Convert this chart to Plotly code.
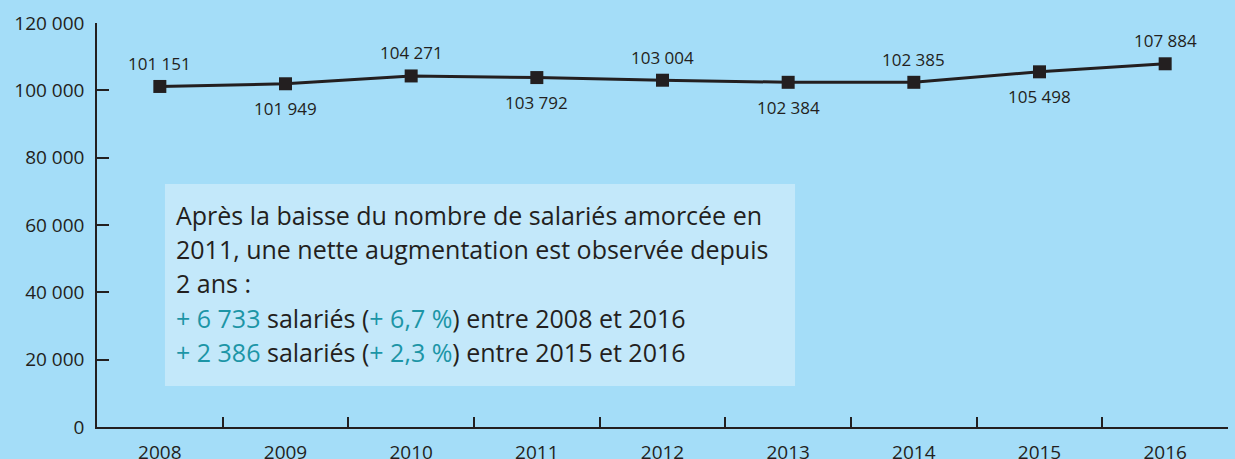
import plotly.graph_objects as go

years = ["2008", "2009", "2010", "2011", "2012", "2013", "2014", "2015", "2016"]
salaries = [101151, 101949, 104271, 103792, 103004, 102384, 102385, 105498, 107884]
label_above = [True, False, True, False, True, False, True, False, True]
y_ticks = [0, 20000, 40000, 60000, 80000, 100000, 120000]
y_ticktext = ["0", "20 000", "40 000", "60 000", "80 000", "100 000", "120 000"]

DARK = "#231f20"
TEAL = "#1c95a6"
BG = "#a4ddf8"
BOX = "#c3e8fa"
FONT = "Open Sans"

labels = [f"{v:,}".replace(",", " ") for v in salaries]

fig = go.Figure()
fig.add_trace(go.Scatter(
    x=years, y=salaries, mode="lines+markers",
    line=dict(color=DARK, width=3),
    marker=dict(symbol="square", size=13, color=DARK),
    cliponaxis=False, hoverinfo="skip", showlegend=False,
))

# category axis: annotation x given as category index
for i, (v, lab, up) in enumerate(zip(salaries, labels, label_above)):
    fig.add_annotation(x=i, y=v, text=lab, showarrow=False,
                       yshift=23 if up else -25, xanchor="center", yanchor="middle",
                       font=dict(family=FONT, size=17, color=DARK))

fig.add_shape(type="rect", xref="paper", yref="paper",
              x0=0.0601, x1=0.6172, y0=0.1015, y1=0.6015,
              fillcolor=BOX, line=dict(width=0), layer="below")

lines = [
    "Après la baisse du nombre de salariés amorcée en",
    "2011, une nette augmentation est observée depuis",
    "2 ans :",
    f"<span style='color:{TEAL}'>+ 6 733</span> salariés (<span style='color:{TEAL}'>+ 6,7 %</span>) entre 2008 et 2016",
    f"<span style='color:{TEAL}'>+ 2 386</span> salariés (<span style='color:{TEAL}'>+ 2,3 %</span>) entre 2015 et 2016",
]
line_y = [0.5248, 0.4406, 0.3564, 0.2698, 0.1856]
for t, yy in zip(lines, line_y):
    fig.add_annotation(text=t, xref="paper", yref="paper", x=0.068, y=yy,
                       xanchor="left", yanchor="middle", showarrow=False,
                       font=dict(family=FONT, size=25, color=DARK))

fig.update_layout(
    width=1235, height=459,
    margin=dict(l=97, r=7, t=23, b=32),
    paper_bgcolor=BG, plot_bgcolor=BG,
    font=dict(family=FONT, color=DARK),
)
fig.update_xaxes(
    type="category", tickson="boundaries", ticks="inside", ticklen=10,
    tickcolor=DARK, tickwidth=1.5, showline=True, linecolor=DARK, linewidth=1.5,
    showgrid=False, zeroline=False, tickfont=dict(family=FONT, size=19, color=DARK),
    range=[-0.5, 8.5], automargin=False, ticklabelstandoff=7,
)
fig.update_yaxes(
    range=[0, 120000], tickvals=y_ticks, ticktext=y_ticktext,
    ticks="inside", ticklen=12, tickcolor=DARK, tickwidth=1.5,
    showline=True, linecolor=DARK, linewidth=1.5, showgrid=False, zeroline=False,
    tickfont=dict(family=FONT, size=19, color=DARK), automargin=False,
    ticklabelstandoff=7,
)

fig.write_html(
    "out.html",
    config={"displayModeBar": False},
    post_script=f"document.body.style.margin='0';document.body.style.background='{BG}';",
)
